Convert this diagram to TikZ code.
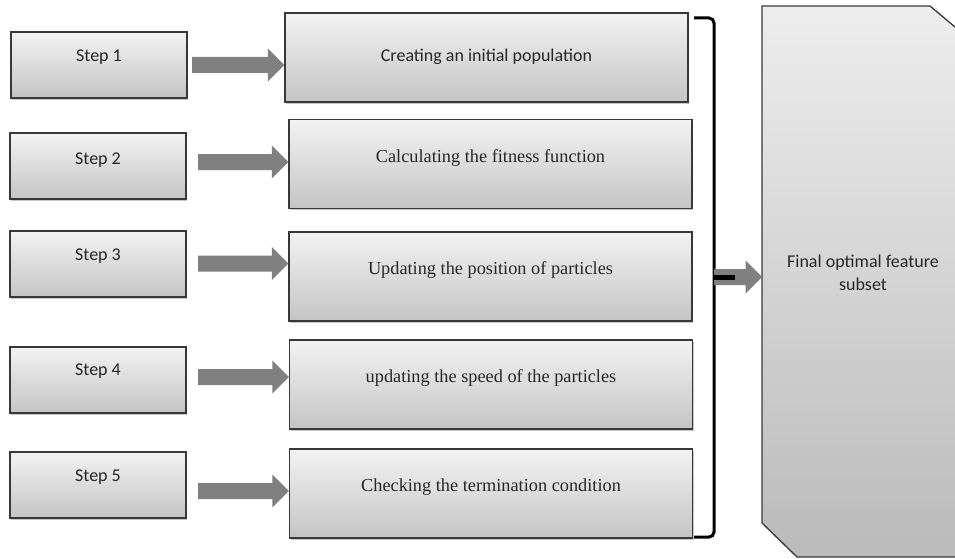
\documentclass[tikz,border=0pt]{standalone}
\usepackage{fontspec}
\setmainfont{Liberation Serif}
\newfontfamily\calib{Carlito}
\usetikzlibrary{calc,shadows}
\newcommand\blockarrow[2]{%
  \fill[arrowfill] let \p1=(#1), \p2=(#2) in
    (\x1,\y1+8pt) -- (\x2-16.5pt,\y1+8pt) -- (\x2-16.5pt,\y1+16.5pt) -- (\x2,\y1)
    -- (\x2-16.5pt,\y1-16.5pt) -- (\x2-16.5pt,\y1-8pt) -- (\x1,\y1-8pt) -- cycle;}
\begin{document}
\begin{tikzpicture}[x=1pt,y=-1pt,
  box/.style={draw=black!78, line width=1.3pt, top color=black!5, bottom color=black!23,
    drop shadow={shadow xshift=1.2pt, shadow yshift=-1.8pt, opacity=0.4, fill=black!55}, inner sep=0pt},
  stepbox/.style={box, minimum width=176pt, minimum height=66pt},
  taskbox/.style={box, minimum width=403pt, minimum height=89pt},
  steptxt/.style={font=\calib\fontsize{18}{22}\selectfont, text=black!85, anchor=base, inner sep=0pt},
  tasktxt/.style={font=\fontsize{18.3}{22}\selectfont, text=black!85, anchor=base, inner sep=0pt},
  arrowfill/.style={fill=black!50},
  brk/.style={draw=black, line width=3pt, rounded corners=5pt},
]
\useasboundingbox (0,0) rectangle (955,559);

% step boxes
\node[stepbox] (s1) at (99,65) {};
\node[stepbox] (s2) at (98,166) {};
\node[stepbox] (s3) at (98,264) {};
\node[stepbox] (s4) at (98,380) {};
\node[stepbox] (s5) at (98,485) {};
\node[steptxt] at ([yshift=-30pt]s1.north) {Step 1};
\node[steptxt] at ([yshift=-32pt]s2.north) {Step 2};
\node[steptxt] at ([yshift=-30pt]s3.north) {Step 3};
\node[steptxt] at ([yshift=-29pt]s4.north) {Step 4};
\node[steptxt] at ([yshift=-30pt]s5.north) {Step 5};

% task boxes
\node[taskbox] (b1) at (486.5,57.5) {};
\node[taskbox] (b2) at (490.5,164) {};
\node[taskbox] (b3) at (490.5,276.5) {};
\node[taskbox] (b4) at (491,384.5) {};
\node[taskbox] (b5) at (491,493.5) {};
\node[steptxt] at ([yshift=-49pt]b1.north) {Creating an initial population};
\node[tasktxt] at ([yshift=-44pt]b2.north) {Calculating the fitness function};
\node[tasktxt] at ([yshift=-43pt]b3.north) {Updating the position of particles};
\node[tasktxt] at ([yshift=-43pt]b4.north) {updating the speed of the particles};
\node[tasktxt] at ([yshift=-43pt]b5.north) {Checking the termination condition};

% block arrows
\coordinate (a1) at (192,65);
\coordinate (a2) at (198,162);
\coordinate (a3) at (198,263.5);
\coordinate (a4) at (198,377);
\coordinate (a5) at (198,491);
\blockarrow{a1}{b1.west |- a1}
\blockarrow{a2}{b2.west |- a2}
\blockarrow{a3}{b3.west |- a3}
\blockarrow{a4}{b4.west |- a4}
\blockarrow{a5}{b5.west |- a5}

% final box
\begin{scope}
\clip (0,0) rectangle (955,559);
\draw[draw=black!78, line width=1.3pt, top color=black!7, bottom color=black!27]
  (762,6) -- (930,6) -- (965,35.4) -- (965,557) -- (797,557) -- (762,523) -- cycle;
\end{scope}
\coordinate (fw) at (762,277);
\node[steptxt] at (863,267) {Final optimal feature};
\node[steptxt] at (863,290) {subset};

% bracket
\coordinate (bt) at (694,18);
\coordinate (bb) at (694,537);
\coordinate (bm) at (714,277);
\draw[brk] (bt) -- (714,18) -- (bm) -- (714,537) -- (bb);
\blockarrow{bm}{fw}
\draw[black, line width=5pt] (bm) -- ++(21,0);
\end{tikzpicture}
\end{document}
